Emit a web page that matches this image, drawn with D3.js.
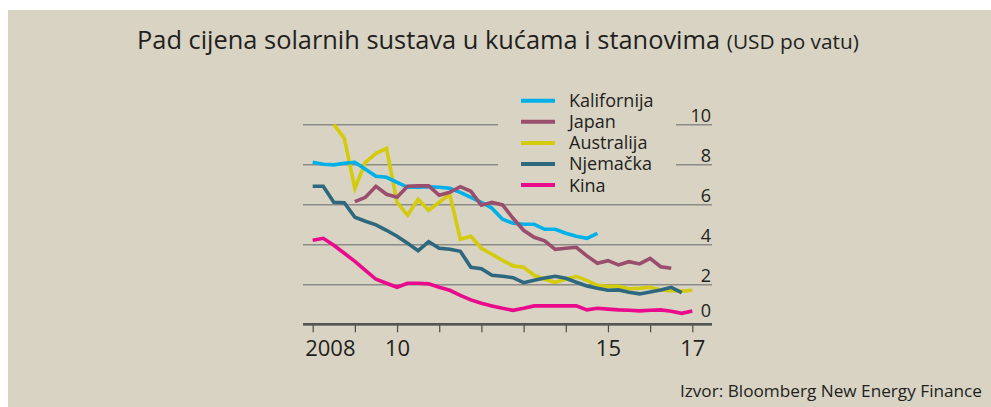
<!DOCTYPE html>
<html>
<head>
<meta charset="utf-8">
<script src="https://cdn.jsdelivr.net/npm/d3@7"></script>
<style>
  body { margin: 0; background: #fff; }
  svg { display: block; font-family: "Open Sans", sans-serif; }
</style>
</head>
<body>
<div id="chart"></div>
<script>
// quarterly points, 2008 Q1 .. 2017 Q1
var quarters = [2008, 2008.25, 2008.5, 2008.75, 2009, 2009.25, 2009.5, 2009.75,
  2010, 2010.25, 2010.5, 2010.75, 2011, 2011.25, 2011.5, 2011.75,
  2012, 2012.25, 2012.5, 2012.75, 2013, 2013.25, 2013.5, 2013.75,
  2014, 2014.25, 2014.5, 2014.75, 2015, 2015.25, 2015.5, 2015.75,
  2016, 2016.25, 2016.5, 2016.75, 2017];

var kalifornija = [8.1, 8.0, 7.97, 8.05, 8.1, 7.75, 7.4, 7.35, 7.1, 6.85, 6.85, 6.88,
  6.85, 6.8, 6.6, 6.35, 6.1, 5.8, 5.25, 5.05, 5.0, 5.0, 4.75, 4.75, 4.55, 4.4, 4.3, 4.55,
  null, null, null, null, null, null, null, null, null];
var japan = [null, null, null, null, 6.13, 6.35, 6.9, 6.5, 6.35, 6.9, 6.92, 6.92,
  6.45, 6.6, 6.88, 6.65, 5.95, 6.1, 5.97, 5.3, 4.7, 4.35, 4.17, 3.75, 3.8, 3.85, 3.42, 3.05,
  3.18, 2.97, 3.13, 3.02, 3.3, 2.88, 2.8, null, null];
var australija = [null, null, 10.0, 9.3, 6.8, 8.1, 8.55, 8.8, 6.1, 5.45, 6.25, 5.7,
  6.1, 6.5, 4.25, 4.4, 3.8, 3.5, 3.2, 2.92, 2.85, 2.45, 2.25, 2.1, 2.25, 2.4, 2.2, 1.95,
  1.9, 1.9, 1.78, 1.8, 1.85, 1.72, 1.68, 1.65, 1.7];
var njemacka = [6.9, 6.9, 6.1, 6.08, 5.35, 5.15, 4.97, 4.7, 4.4, 4.05, 3.68, 4.13,
  3.8, 3.75, 3.65, 2.85, 2.78, 2.45, 2.4, 2.33, 2.08, 2.2, 2.32, 2.4, 2.3, 2.1, 1.92, 1.8,
  1.7, 1.72, 1.6, 1.52, 1.62, 1.72, 1.85, 1.58, null];
var kina = [4.2, 4.3, 3.95, 3.55, 3.15, 2.7, 2.25, 2.05, 1.85, 2.05, 2.05, 2.02,
  1.85, 1.7, 1.45, 1.22, 1.05, 0.92, 0.8, 0.7, 0.8, 0.92, 0.92, 0.92, 0.92, 0.92, 0.72, 0.8,
  0.76, 0.72, 0.7, 0.67, 0.7, 0.72, 0.65, 0.55, 0.67];

var seriesNames = ["Kalifornija", "Japan", "Australija", "Njemačka", "Kina"];
var seriesValues = [kalifornija, japan, australija, njemacka, kina];
var yearTicks = [2008, 2009, 2010, 2011, 2012, 2013, 2014, 2015, 2016, 2017];
var yearLabels = ["2008", "", "10", "", "", "", "", "15", "", "17"];
var yTicks = [0, 2, 4, 6, 8, 10];

var colors = {
  "Kalifornija": "#00b1e9",
  "Japan": "#9a4d6c",
  "Australija": "#d3cb0c",
  "Njemačka": "#2e687e",
  "Kina": "#ea0a8c"
};
// teal sits over yellow where they cross
var drawOrder = ["Australija", "Kalifornija", "Japan", "Njemačka", "Kina"];

var W = 991, H = 407;
var plot = {left: 303, right: 712, x0: 312.7, x1: 692.3, top: 124.3, bottom: 324.3};

var svg = d3.select("#chart")
  .append("svg")
    .attr("width", W)
    .attr("height", H);

svg.append("rect")
  .attr("x", 8).attr("y", 10)
  .attr("width", W - 8).attr("height", H - 10)
  .attr("fill", "#d8d3c3");

svg.append("text")
  .attr("x", 137).attr("y", 49)
  .attr("fill", "#231f20")
  .attr("font-size", 25.4)
  .text("Pad cijena solarnih sustava u kućama i stanovima ")
  .append("tspan")
    .attr("font-size", 20.8)
    .text("(USD po vatu)");

svg.append("text")
  .attr("x", 982).attr("y", 397)
  .attr("text-anchor", "end")
  .attr("fill", "#231f20")
  .attr("font-size", 17.2)
  .text("Izvor: Bloomberg New Energy Finance");

var x = d3.scaleLinear()
  .domain([2008, 2017])
  .range([plot.x0, plot.x1]);

var y = d3.scaleLinear()
  .domain([0, 10])
  .range([plot.bottom, plot.top]);

// gridlines + labels
var yAxis = svg.append("g")
  .attr("transform", "translate(" + plot.right + ",0)")
  .call(d3.axisLeft(y).tickValues(yTicks).tickSize(plot.right - plot.left).tickFormat(d3.format("d")));
yAxis.select(".domain").remove();
yAxis.selectAll(".tick line")
  .attr("stroke", "#8b8b88")
  .attr("stroke-width", 1.4);
yAxis.selectAll(".tick text")
  .attr("x", -1)
  .attr("dy", "-0.17em")
  .attr("text-anchor", "end")
  .attr("font-family", "Open Sans, sans-serif")
  .attr("font-size", 18)
  .attr("fill", "#231f20");
yAxis.selectAll(".tick").filter(function(d) { return d === 0; }).select("text")
  .attr("dy", "-0.42em");

// x axis
var xAxis = svg.append("g")
  .attr("transform", "translate(0," + plot.bottom + ")")
  .call(d3.axisBottom(x).tickValues(yearTicks).tickSize(8).tickSizeOuter(0)
    .tickFormat(function(d, i) { return yearLabels[i]; }));
xAxis.select(".domain").remove();
xAxis.selectAll(".tick line")
  .attr("stroke", "#4a4a48")
  .attr("stroke-width", 1.2);
xAxis.selectAll(".tick text")
  .attr("dy", "0.96em")
  .attr("font-family", "Open Sans, sans-serif")
  .attr("font-size", 22)
  .attr("fill", "#231f20");
xAxis.selectAll(".tick").filter(function(d) { return d === 2008; }).select("text")
  .attr("text-anchor", "start")
  .attr("x", -8);

svg.append("line")
  .attr("x1", plot.left).attr("x2", plot.right)
  .attr("y1", y(0)).attr("y2", y(0))
  .attr("stroke", "#555553")
  .attr("stroke-width", 2.6);

// legend box hides the upper gridlines
svg.append("rect")
  .attr("x", 498).attr("y", 88)
  .attr("width", 178).attr("height", 96)
  .attr("fill", "#d8d3c3");

var line = d3.line()
  .defined(function(d) { return d.v !== null; })
  .x(function(d) { return x(d.q); })
  .y(function(d) { return y(d.v); });

var series = seriesNames.map(function(name, i) {
  return {
    name: name,
    points: quarters.map(function(q, j) { return {q: q, v: seriesValues[i][j]}; })
  };
});

svg.append("g")
  .selectAll("path")
  .data(drawOrder.map(function(n) { return series[seriesNames.indexOf(n)]; }))
  .enter().append("path")
    .attr("fill", "none")
    .attr("stroke", function(d) { return colors[d.name]; })
    .attr("stroke-width", 3.6)
    .attr("stroke-linejoin", "miter")
    .attr("d", function(d) { return line(d.points); });

var legend = svg.append("g")
  .selectAll("g")
  .data(seriesNames)
  .enter().append("g")
    .attr("transform", function(d, i) { return "translate(521," + (100.7 + i * 21.1) + ")"; });

legend.append("line")
  .attr("x1", 0).attr("x2", 34)
  .attr("stroke", function(d) { return colors[d]; })
  .attr("stroke-width", 4);

legend.append("text")
  .attr("x", 48)
  .attr("dy", "0.36em")
  .attr("font-size", 18)
  .attr("fill", "#231f20")
  .text(function(d) { return d; });
</script>
</body>
</html>
